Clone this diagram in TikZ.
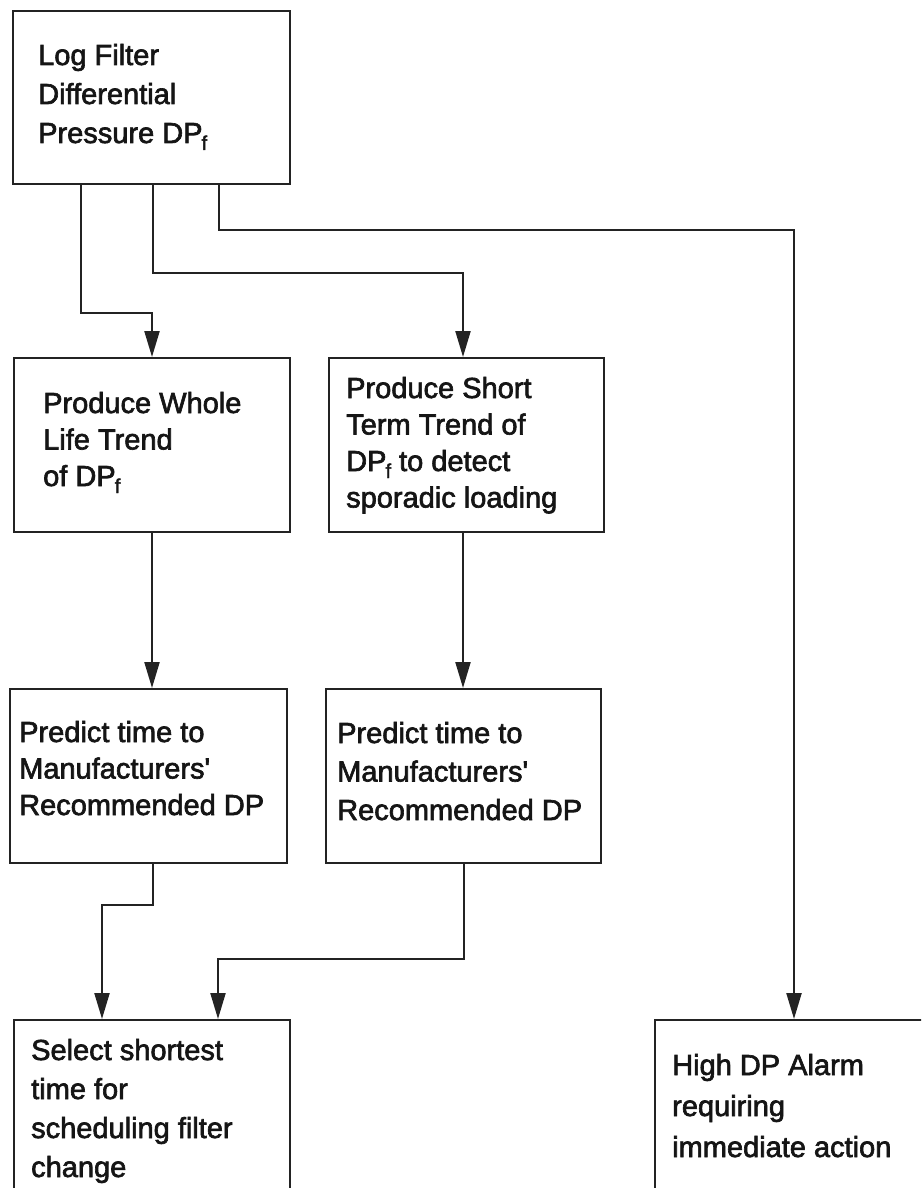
\documentclass[tikz,border=0pt]{standalone}
\usepackage{fontspec}
\setmainfont{Liberation Sans}[FakeBold=2.2]
\usetikzlibrary{arrows.meta}
\definecolor{ink}{HTML}{232323}
\definecolor{textink}{HTML}{151515}
% lowered subscript f used in DP_f
\newcommand\subf{\kern-1pt\raisebox{-7pt}{\fontsize{20}{20}\selectfont f}}
\newcommand\boxlines[1]{\parbox[t]{260pt}{\raggedright #1}}
\begin{document}
\begin{tikzpicture}[x=1pt,y=-1pt,
  box/.style={draw=ink, line width=2.2pt, rectangle, anchor=north west, inner sep=0pt},
  txt/.style={font=\fontsize{29}{#1}\selectfont, text=textink, anchor=base west, inner sep=0pt},
  arr/.style={draw=ink, line width=2.2pt, -{Triangle[length=26pt,width=15pt]}}]

\useasboundingbox (0,0) rectangle (921,1188);
\clip (0,0) rectangle (921,1188);

% boxes
\node[box, minimum width=277pt, minimum height=173pt] (log)   at (12,10)   {};
\node[box, minimum width=276pt, minimum height=174pt] (whole) at (13,357)  {};
\node[box, minimum width=275pt, minimum height=174pt] (short) at (328,357) {};
\node[box, minimum width=277pt, minimum height=174pt] (pred1) at (9,688)   {};
\node[box, minimum width=275pt, minimum height=174pt] (pred2) at (325,688) {};
\node[box, minimum width=276pt, minimum height=220pt] (select) at (13,1019) {};
\node[box, minimum width=300pt, minimum height=220pt] (alarm) at (654,1019) {};

% box texts
\node[txt=39]   (tlog)    at (38,65)   {\boxlines{Log Filter\\Differential\\Pressure DP\subf}};
\node[txt=36.5] (twhole)  at (43,413)  {\boxlines{Produce Whole\\Life Trend\\of DP\subf}};
\node[txt=36.5] (tshort)  at (346,398) {\boxlines{Produce Short\\Term Trend of\\DP\subf{} to detect\\sporadic loading}};
\node[txt=36.5] (tpred1)  at (19,742)  {\boxlines{Predict time to\\Manufacturers\textquotesingle\\Recommended DP}};
\node[txt=38.5] (tpred2)  at (337,743) {\boxlines{Predict time to\\Manufacturers\textquotesingle\\Recommended DP}};
\node[txt=39]   (tselect) at (31,1060) {\boxlines{Select shortest\\time for\\scheduling filter\\change}};
\node[txt=41]   (talarm)  at (672,1075) {\boxlines{High DP Alarm\\requiring\\immediate action}};

% connectors from the logging box
\draw[arr] ([xshift=69pt]log.south west) |- ([xshift=139pt,yshift=44pt]whole.north west)
           -- ([xshift=139pt]whole.north west);
\draw[arr] ([xshift=141pt]log.south west) |- ([xshift=135pt,yshift=84pt]short.north west)
           -- ([xshift=135pt]short.north west);
\draw[arr] ([xshift=207pt]log.south west) |- ([xshift=140pt,yshift=789pt]alarm.north west)
           -- ([xshift=140pt]alarm.north west);

% trend boxes to prediction boxes
\draw[arr] ([xshift=139pt]whole.south west) -- ([xshift=143pt]pred1.north west);
\draw[arr] ([xshift=135pt]short.south west) -- ([xshift=138pt]pred2.north west);

% prediction boxes to selection box
\draw[arr] ([xshift=144pt]pred1.south west) |- ([xshift=89pt,yshift=114pt]select.north west)
           -- ([xshift=89pt]select.north west);
\draw[arr] ([xshift=139pt]pred2.south west) |- ([xshift=205pt,yshift=60pt]select.north west)
           -- ([xshift=205pt]select.north west);
\end{tikzpicture}
\end{document}
